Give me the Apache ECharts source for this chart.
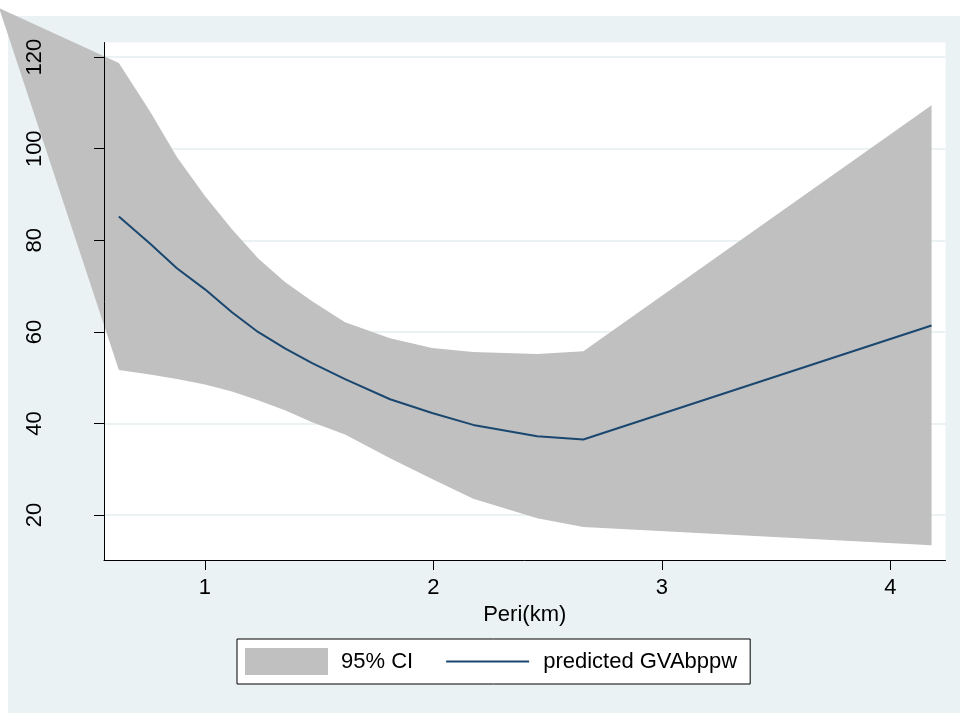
<!DOCTYPE html>
<html>
<head>
<meta charset="utf-8">
<script src="https://cdn.jsdelivr.net/npm/echarts@6/dist/echarts.min.js"></script>
<style>
  html, body { margin: 0; padding: 0; background: #fff; }
  #chart { width: 960px; height: 713px; }
</style>
</head>
<body>
<div id="chart"></div>
<script>
// x positions of the CI band (Peri in km)
var ciX = [0.099, 0.623, 0.759, 0.877, 1.0, 1.118, 1.232, 1.350, 1.469, 1.613, 1.810, 1.994, 2.174, 2.454, 2.656, 4.180];
var ciUpper = [130.7, 118.7, 108.2, 98.2, 89.7, 82.4, 76.1, 70.9, 66.7, 62.1, 58.6, 56.5, 55.6, 55.2, 55.8, 109.5];
var ciLower = [130.7, 51.7, 50.7, 49.7, 48.5, 47.0, 45.1, 42.9, 40.3, 37.6, 32.4, 27.9, 23.6, 19.3, 17.4, 13.4];

// predicted line
var predX = [0.623, 0.759, 0.877, 1.0, 1.118, 1.232, 1.350, 1.469, 1.613, 1.810, 1.994, 2.174, 2.454, 2.656, 4.180];
var predY = [85.2, 79.3, 73.9, 69.3, 64.3, 60.0, 56.4, 53.2, 49.7, 45.3, 42.3, 39.7, 37.2, 36.5, 61.4];

var xTicks = [1, 2, 3, 4];
var yTicks = [20, 40, 60, 80, 100, 120];

var FONT = 'Liberation Sans, Arial, sans-serif';

var chart = echarts.init(document.getElementById('chart'));

var option = {
    animation: false,
    backgroundColor: '#ffffff',
    textStyle: { fontFamily: FONT },
    graphic: [
        {
            type: 'rect',
            z: -10,
            shape: { x: 8, y: 16, width: 952, height: 697 },
            style: { fill: '#eaf2f3' }
        }
    ],
    grid: {
        left: 104,
        right: 14.5,
        top: 42.5,
        bottom: 153,
        show: true,
        backgroundColor: '#ffffff',
        borderWidth: 0
    },
    xAxis: {
        type: 'value',
        min: 0.558,
        max: 4.241,
        z: 10,
        name: 'Peri(km)',
        nameLocation: 'middle',
        nameGap: 42,
        nameTextStyle: { color: '#000', fontSize: 22, fontFamily: FONT },
        axisLine: { show: true, onZero: false, lineStyle: { color: '#000', width: 1 } },
        axisTick: { show: true, length: 10, customValues: xTicks, lineStyle: { color: '#000' } },
        axisLabel: { customValues: xTicks, color: '#000', fontSize: 22, margin: 17, fontFamily: FONT },
        splitLine: { show: false }
    },
    yAxis: [
        {
            // gridlines only, drawn under the band
            type: 'value',
            position: 'left',
            min: 10.2,
            max: 123.2,
            z: 0,
            axisLine: { show: false },
            axisTick: { show: false, customValues: yTicks },
            axisLabel: { show: false, customValues: yTicks },
            splitLine: { show: true, lineStyle: { color: '#eaf2f3', width: 2 } }
        },
        {
            type: 'value',
            position: 'left',
            offset: 0,
            min: 10.2,
            max: 123.2,
            z: 10,
            axisLine: { show: true, onZero: false, lineStyle: { color: '#000', width: 1 } },
            axisTick: { show: true, length: 10, customValues: yTicks, lineStyle: { color: '#000' } },
            axisLabel: { customValues: yTicks, rotate: 90, color: '#000', fontSize: 22, margin: 58, fontFamily: FONT },
            splitLine: { show: false }
        }
    ],
    legend: {
        left: 237,
        top: 639,
        orient: 'horizontal',
        backgroundColor: '#ffffff',
        borderColor: '#000',
        borderWidth: 1,
        borderRadius: 0,
        padding: [9, 13, 9, 8],
        itemWidth: 83,
        itemHeight: 27,
        itemGap: 33,
        textStyle: { color: '#000', fontSize: 22, fontFamily: FONT },
        data: [
            { name: '95% CI', icon: 'rect', textStyle: { padding: [0, 0, 0, 8] } },
            {
                name: 'predicted GVAbppw',
                icon: 'path://M0,0L80,0L80,2L0,2Z',
                itemStyle: { color: '#1a476f' },
                textStyle: { padding: [0, 0, 0, 9] }
            }
        ]
    },
    series: [
        {
            name: '95% CI',
            type: 'custom',
            clip: false,
            z: 1,
            yAxisIndex: 0,
            itemStyle: { color: '#c0c0c0' },
            data: ciX.map(function (x, i) { return [x, ciLower[i], ciUpper[i]]; }),
            encode: { x: 0, y: [1, 2] },
            renderItem: function (params, api) {
                if (params.dataIndex !== 0) return;
                var pts = [];
                for (var i = 0; i < ciX.length; i++) {
                    pts.push(api.coord([ciX[i], ciUpper[i]]));
                }
                for (var j = ciX.length - 1; j >= 0; j--) {
                    pts.push(api.coord([ciX[j], ciLower[j]]));
                }
                return {
                    type: 'polygon',
                    shape: { points: pts },
                    style: { fill: '#c0c0c0' }
                };
            }
        },
        {
            name: 'predicted GVAbppw',
            type: 'line',
            z: 3,
            yAxisIndex: 0,
            symbol: 'none',
            clip: false,
            lineStyle: { color: '#1a476f', width: 2 },
            itemStyle: { color: '#1a476f' },
            data: predX.map(function (x, i) { return [x, predY[i]]; })
        }
    ]
};

chart.setOption(option);
</script>
</body>
</html>
